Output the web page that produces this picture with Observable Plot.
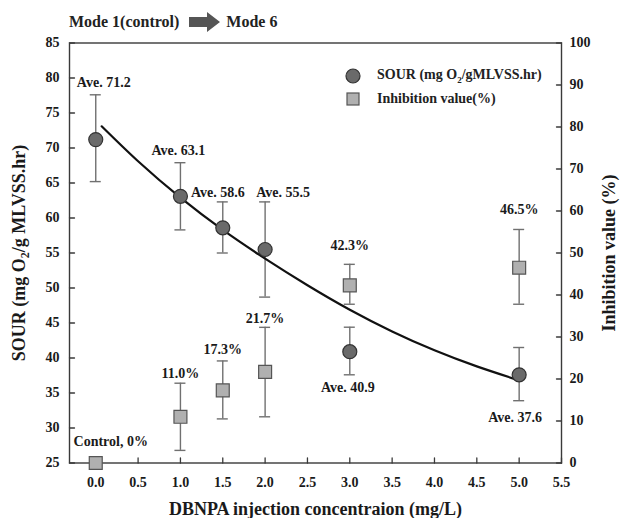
<!DOCTYPE html>
<html><head><meta charset="utf-8">
<script src="https://cdn.jsdelivr.net/npm/d3@7"></script>
<script src="https://cdn.jsdelivr.net/npm/@observablehq/plot@0.6"></script>
<style>
body{margin:0;background:#fff;font-family:"Liberation Serif",serif;}
#wrap{position:relative;width:620px;height:518px;overflow:hidden;}
#title{box-sizing:border-box;height:34px;padding-top:10px;padding-left:69px;font-weight:bold;font-size:16px;line-height:24px;color:#222;display:flex;align-items:center;}
#title svg{margin:0 6px 0 10px;}
#legend{position:absolute;left:344px;top:64px;font-weight:bold;font-size:14px;color:#222;}
#legend .row{display:flex;align-items:center;height:23px;}
#legend svg{margin-right:15px;}
sub{font-size:9px;}
</style></head><body>
<div id="wrap">
<div id="title">Mode 1(control)<svg width="31" height="22"><polygon points="0,6 18,6 18,1 31,11 18,21 18,16 0,16" fill="#555"/></svg>Mode 6</div>
<div id="chart"></div>
<div id="legend">
<div class="row"><svg width="18" height="18"><circle cx="9" cy="9" r="7" fill="#6a6a6a" stroke="#333" stroke-width="1.2"/></svg><span>SOUR (mg O<sub>2</sub>/gMLVSS.hr)</span></div>
<div class="row"><svg width="18" height="18"><rect x="3" y="3" width="12" height="12" fill="#b0b0b0" stroke="#555" stroke-width="1.2"/></svg><span>Inhibition value(%)</span></div>
</div>
</div>
<script>
// ---- data ----
const conc = [0, 1, 1.5, 2, 3, 5];
const sour = [71.2, 63.1, 58.6, 55.5, 40.9, 37.6];
const sourLow = [65.2, 58.3, 55.0, 48.7, 37.6, 33.9];
const sourHigh = [77.6, 67.9, 62.3, 62.3, 44.4, 41.5];
const inhib = [0, 11.0, 17.3, 21.7, 42.3, 46.5];
const inhibLow = [null, 3.0, 10.5, 11.0, 37.8, 37.8];
const inhibHigh = [null, 19.0, 24.3, 32.3, 47.3, 55.6];
const fitX = [0.07, 0.5, 1, 1.5, 2, 2.5, 3, 3.5, 4, 4.5, 5];
const fitY = [73.1, 68.1, 62.9, 58.3, 54.2, 50.4, 46.9, 43.8, 41.1, 38.8, 36.8];
const sourLabels = ["Ave. 71.2", "Ave. 63.1", "Ave. 58.6", "Ave. 55.5", "Ave. 40.9", "Ave. 37.6"];
const inhibLabels = ["Control, 0%", "11.0%", "17.3%", "21.7%", "42.3%", "46.5%"];
const xTicks = [0, 0.5, 1, 1.5, 2, 2.5, 3, 3.5, 4, 4.5, 5, 5.5];
const leftTicks = [25, 30, 35, 40, 45, 50, 55, 60, 65, 70, 75, 80, 85];
const rightTicks = [0, 10, 20, 30, 40, 50, 60, 70, 80, 90, 100];

// right axis (0–100 %) shares the frame with the left axis (25–85)
const toLeft = v => 25 + v * 0.6;

const sourData = conc.map((x, i) => ({x, y: sour[i], lo: sourLow[i], hi: sourHigh[i], label: sourLabels[i]}));
const inhibData = conc.map((x, i) => ({x, y: toLeft(inhib[i]), lo: inhibLow[i] == null ? null : toLeft(inhibLow[i]), hi: inhibHigh[i] == null ? null : toLeft(inhibHigh[i]), label: inhibLabels[i]}));
const inhibBars = inhibData.filter(d => d.lo != null);
const fit = fitX.map((x, i) => ({x, y: fitY[i]}));

// label offsets (px) relative to the point
const sourOff = [[8, -57], [-2, -46], [-5, -35], [18, -57], [-2, 36], [-4, 43]];
const inhibOff = [[15, -21], [0, -43], [0, -41], [0, -53], [0, -40], [0, -58]];

const capHalf = 0.065;
const font = {fontSize: 14, fontWeight: "bold", fontFamily: "Liberation Serif"};
const errColor = "#707070";
const axisColor = "#3a3a3a";
const tickShape = {draw(context, l) { context.moveTo(0, 0); context.lineTo(0, -l); }};
const tickStyle = {length: 5, anchor: "start", shape: tickShape, stroke: axisColor, strokeWidth: 1.3};

const marks = [
  Plot.frame({stroke: axisColor, strokeWidth: 1.4}),
  // inward tick marks
  Plot.vector(xTicks, {x: d => d, frameAnchor: "bottom", rotate: 0, ...tickStyle}),
  Plot.vector(leftTicks, {y: d => d, frameAnchor: "left", rotate: 90, ...tickStyle}),
  Plot.vector(rightTicks.map(toLeft), {y: d => d, frameAnchor: "right", rotate: -90, ...tickStyle}),
  // error bars: SOUR
  Plot.ruleX(sourData, {x: "x", y1: "lo", y2: "hi", stroke: errColor, strokeWidth: 1.4}),
  Plot.ruleY(sourData, {y: "lo", x1: d => d.x - capHalf, x2: d => d.x + capHalf, stroke: errColor, strokeWidth: 1.4}),
  Plot.ruleY(sourData, {y: "hi", x1: d => d.x - capHalf, x2: d => d.x + capHalf, stroke: errColor, strokeWidth: 1.4}),
  // error bars: inhibition
  Plot.ruleX(inhibBars, {x: "x", y1: "lo", y2: "hi", stroke: errColor, strokeWidth: 1.4}),
  Plot.ruleY(inhibBars, {y: "lo", x1: d => d.x - capHalf, x2: d => d.x + capHalf, stroke: errColor, strokeWidth: 1.4}),
  Plot.ruleY(inhibBars, {y: "hi", x1: d => d.x - capHalf, x2: d => d.x + capHalf, stroke: errColor, strokeWidth: 1.4}),
  // fitted curve
  Plot.line(fit, {x: "x", y: "y", curve: "natural", stroke: "#111", strokeWidth: 2.2}),
  // points
  Plot.dot(sourData, {x: "x", y: "y", r: 7, fill: "#6a6a6a", stroke: "#333", strokeWidth: 1.2}),
  Plot.dot(inhibData, {x: "x", y: "y", symbol: "square", r: 7.3, fill: "#b0b0b0", stroke: "#555", strokeWidth: 1.2}),
  // labels
  ...sourData.map((d, i) => Plot.text([d], {x: "x", y: "y", text: "label", dx: sourOff[i][0], dy: sourOff[i][1], fill: "#1a1a1a", ...font})),
  ...inhibData.map((d, i) => Plot.text([d], {x: "x", y: "y", text: "label", dx: inhibOff[i][0], dy: inhibOff[i][1], fill: "#1a1a1a", ...font})),
  // axes (ticks drawn above, inward)
  Plot.axisX(xTicks, {anchor: "bottom", tickSize: 0, tickPadding: 14, tickFormat: d3.format(".1f"), fill: "#1a1a1a", ...font,
    label: "DBNPA injection concentraion (mg/L)", labelAnchor: "center", labelOffset: 52, labelArrow: "none"}),
  Plot.axisY(leftTicks, {anchor: "left", tickSize: 0, tickPadding: 10, fill: "#1a1a1a", ...font,
    label: "SOUR (mg O2/g MLVSS.hr)", labelAnchor: "center", labelOffset: 57, labelArrow: "none"}),
  Plot.axisY(rightTicks.map(toLeft), {anchor: "right", tickSize: 0, tickPadding: 8, fill: "#1a1a1a", ...font,
    tickFormat: v => String(Math.round((v - 25) / 0.6)),
    label: "Inhibition value (%)", labelAnchor: "center", labelOffset: 53, labelArrow: "none"})
];

const chart = Plot.plot({
  width: 620,
  height: 484,
  marginTop: 8.5,
  marginBottom: 55.5,
  marginLeft: 69,
  marginRight: 59,
  x: {domain: [-0.31, 5.5]},
  y: {domain: [25, 85]},
  style: {background: "#fff", color: "#1a1a1a"},
  marks
});

// enlarge the axis titles and give O2 its subscript
d3.select(chart).selectAll("g[aria-label$='axis label'] text")
  .attr("font-size", 18).attr("font-weight", "bold").attr("font-family", "Liberation Serif");
d3.select(chart).selectAll("text").each(function() {
  if (this.textContent === "SOUR (mg O2/g MLVSS.hr)") {
    const t = d3.select(this);
    t.text(null);
    t.append("tspan").text("SOUR (mg O");
    t.append("tspan").attr("dy", 4).attr("font-size", 12).text("2");
    t.append("tspan").attr("dy", -4).text("/g MLVSS.hr)");
  }
});
document.getElementById("chart").append(chart);
</script>
</body></html>
